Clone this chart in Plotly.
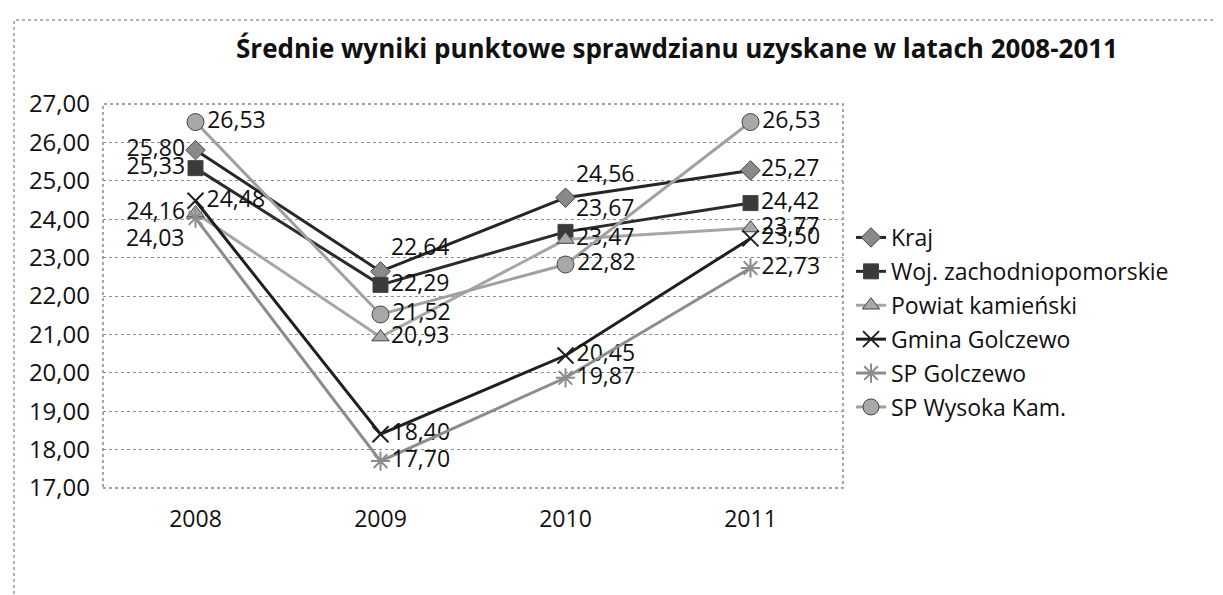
import plotly.graph_objects as go

years = ["2008", "2009", "2010", "2011"]
kraj = [25.80, 22.64, 24.56, 25.27]
woj = [25.33, 22.29, 23.67, 24.42]
powiat = [24.16, 20.93, 23.47, 23.77]
gmina = [24.48, 18.40, 20.45, 23.50]
sp_golczewo = [24.03, 17.70, 19.87, 22.73]
sp_wysoka = [26.53, 21.52, 22.82, 26.53]

names = ["Kraj", "Woj. zachodniopomorskie", "Powiat kamieński",
         "Gmina Golczewo", "SP Golczewo", "SP Wysoka Kam."]
series = [kraj, woj, powiat, gmina, sp_golczewo, sp_wysoka]

line_colors = ["#262626", "#2b2b2b", "#a6a6a6", "#1f1f1f", "#8c8c8c", "#a0a0a0"]
marker_colors = ["#8a8a8a", "#3a3a3a", "#a8a8a8", "#1f1f1f", "#8c8c8c", "#a8a8a8"]
symbols = ["diamond", "square", "triangle-up", "x-thin-open", "asterisk-open", "circle"]
sizes = [15, 15, 15, 16, 16, 17]
textpos = [
    ["middle left", "top right", "top right", "middle right"],
    ["middle left", "middle right", "top right", "middle right"],
    ["middle left", "middle right", "middle right", "middle right"],
    ["middle right", "middle right", "middle right", "middle right"],
    ["bottom left", "middle right", "middle right", "middle right"],
    ["middle right", "middle right", "middle right", "middle right"],
]

FONT = "Open Sans"
fig = go.Figure()
for i, (nm, vals) in enumerate(zip(names, series)):
    is_open = "open" in symbols[i]
    fig.add_trace(go.Scatter(
        x=years, y=vals, name=nm, mode="lines+markers+text",
        line=dict(color=line_colors[i], width=3),
        marker=dict(symbol=symbols[i], size=sizes[i], color=marker_colors[i],
                    line=dict(color=line_colors[i] if is_open else "#444",
                              width=2 if is_open else 1)),
        text=[f"{v:.2f}".replace(".", ",") for v in vals],
        textposition=textpos[i],
        textfont=dict(family=FONT, size=23, color="#111"),
        cliponaxis=False,
        legendgroup=str(i),
    ))

L, R, T, B = 95, 835, 96, 480
W, H = 1223, 595

def px(xp):
    return (xp - L) / (R - L)

def py(yp):
    return (B - yp) / (B - T)

fig.update_layout(
    width=W, height=H,
    margin=dict(l=L, r=W - R, t=T, b=H - B),
    paper_bgcolor="white", plot_bgcolor="white",
    separators=", ",
    title=dict(text="Średnie wyniki punktowe sprawdzianu uzyskane w latach 2008-2011",
               x=669 / W, y=1 - 41 / H, xanchor="center", yanchor="middle",
               xref="container", yref="container",
               font=dict(family=FONT, size=26, color="#111", weight="bold")),
    legend=dict(x=px(843), y=py(208), xanchor="left", yanchor="top",
                font=dict(family=FONT, size=23, color="#111"),
                tracegroupgap=1, itemwidth=30, bgcolor="rgba(0,0,0,0)"),
    showlegend=True,
    xaxis=dict(type="category", range=[-0.5, 3.5], showgrid=False, zeroline=False,
               ticks="", tickfont=dict(family=FONT, size=23, color="#111"),
               ticklabelstandoff=15, showline=False),
    yaxis=dict(range=[17, 27], dtick=1, tickformat=".2f", showgrid=True,
               gridcolor="#8c8c8c", griddash="dot", gridwidth=1, zeroline=False,
               ticks="", tickfont=dict(family=FONT, size=24, color="#111"),
               ticklabelstandoff=12, showline=False),
    shapes=[
        dict(type="rect", xref="paper", yref="paper", x0=0, x1=1, y0=0, y1=1,
             line=dict(color="#888", width=1.5, dash="dot"), layer="below"),
        dict(type="rect", xref="paper", yref="paper", x0=px(6), x1=px(1219),
             y0=py(591), y1=py(12), line=dict(color="#999", width=1.5, dash="dot")),
    ],
)

fig.write_html("out.html")
